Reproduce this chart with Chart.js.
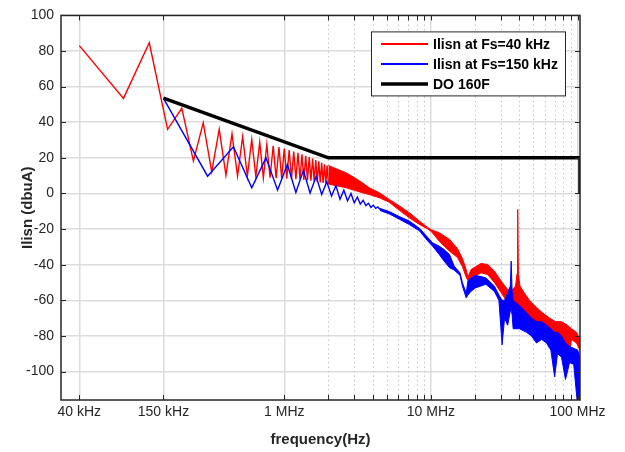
<!DOCTYPE html>
<html>
<head>
<meta charset="utf-8">
<script src="https://cdn.jsdelivr.net/npm/chart.js@4.4.1/dist/chart.umd.min.js"></script>
<style>
  html, body { margin: 0; padding: 0; background: #fff; }
</style>
</head>
<body>
<canvas id="lisnChart" width="625" height="452"></canvas>
<script>
// axis ticks
const freqTicksMHz = [0.04, 0.15, 1, 10, 100];
const freqTickLabels = ['40 kHz', '150 kHz', '1 MHz', '10 MHz', '100 MHz'];
const minorTicksMHz = [2, 3, 4, 5, 6, 7, 8, 9, 20, 30, 40, 50, 60, 70, 80, 90];
const levelTicks = [-100, -80, -60, -40, -20, 0, 20, 40, 60, 80, 100];

// Fs = 40 kHz, harmonics up to 2 MHz (MHz / dBuA)
const red40LowMHz = [0.04, 0.08, 0.12, 0.16, 0.20, 0.24, 0.28, 0.32, 0.36, 0.40, 0.44, 0.48, 0.52, 0.56, 0.60,
  0.64, 0.68, 0.72, 0.76, 0.80, 0.84, 0.88, 0.92, 0.96, 1.00, 1.04, 1.08, 1.12, 1.16, 1.20,
  1.24, 1.28, 1.32, 1.36, 1.40, 1.44, 1.48, 1.52, 1.56, 1.60, 1.64, 1.68, 1.72, 1.76, 1.80,
  1.84, 1.88, 1.92, 1.96, 2.00];
const red40LowLevel = [83, 53.4, 84.6, 36, 47.8, 18.2, 39.7, 12.2, 36, 10.3, 33.5, 9.7, 31.9, 9.7, 30.3,
  9.4, 28.8, 8.8, 27.5, 8.8, 26.8, 8.6, 26, 8.5, 25.2, 8.3, 24.4, 8.2, 23.6, 8,
  22.8, 7.8, 22, 7.6, 21.2, 7.4, 20.4, 7.1, 19.6, 6.8, 18.8, 6.5, 18, 6.2, 17.2,
  5.9, 16.4, 5.6, 15.7, 5.3];

// Fs = 40 kHz, dense harmonics (upper / lower envelope)
const red40BandMHz = [2.0, 2.3, 2.64, 3.0, 3.41, 3.8, 4.45, 5.21, 6.1, 7.13, 8.35, 9.47, 10.1,
  11.4, 13.4, 15.2, 16.4, 17.4, 17.9, 18.8, 22.0, 24.4, 27.1, 30.2, 33.4, 36.0, 37.8, 38.7, 39.1, 39.5, 40.5,
  43.5, 47.0, 52.5, 57.7, 64.4, 70.8, 77.8, 85.4, 91.0, 98.4, 104];
const red40BandHi = [15.7, 13.6, 11.6, 9, 6, 3.2, 0.4, -3.4, -7, -10.8, -15.5, -19, -20.5,
  -22, -25.8, -31, -36.5, -42.7, -47, -42.7, -39.3, -39.9, -43.6, -49.3, -54, -54, -52, -45, -9, -45, -52,
  -56, -60, -64, -67, -70, -72, -72, -74, -76, -78, -82];
const red40BandLo = [5.3, 4.2, 3.2, 1.8, 0.4, -0.6, -2.4, -5, -9.5, -13.7, -17.4, -19.8, -21.5,
  -26.8, -32.4, -36, -41, -47, -49, -47.4, -44.6, -45.5, -50, -55.8, -61.4, -68, -72, -70, -66, -70, -70,
  -68, -70, -74, -76, -78, -80, -80, -97, -82, -84, -88];

// Fs = 150 kHz, first harmonics
const blue150LowMHz = [0.15, 0.30, 0.45, 0.60, 0.75, 0.90, 1.05, 1.20, 1.35, 1.50, 1.65, 1.80, 1.95, 2.10, 2.25,
  2.40, 2.55, 2.70, 2.85, 3.00, 3.15, 3.30, 3.45, 3.60, 3.75, 3.90, 4.05, 4.20, 4.35, 4.50];
const blue150LowLevel = [53.4, 9.7, 26.2, 3.2, 20, 1.9, 16.3, 0.6, 13, 0.3, 9.5, -0.6, 6.5, -1.5, 4.3,
  -3.2, 1.8, -4.2, 0, -5.2, -2, -6, -3.8, -6.8, -5.5, -7.8, -6.6, -8.4, -7.6, -9];

// Fs = 150 kHz, dense harmonics (upper / lower envelope)
const blue150BandMHz = [4.5, 5.21, 6.1, 7.13, 8.35, 9.47, 10.24, 11.4, 12.3, 13.4, 14.4, 15.8, 16.4, 17.4, 17.9,
  18.8, 20.2, 23.7, 27.1, 29.1, 30.6, 31.8, 33.4, 34.8, 35.3, 35.8, 36.4, 40.2, 44.9, 48.5, 52.5, 56.9,
  61.5, 65.8, 69.8, 73.1, 77.8, 82.8, 88.3, 94.2, 100.4, 104];
const blue150BandHi = [-8.4, -10.2, -13, -15.5, -19.5, -24.5, -27.7, -29.6, -31.5, -34.3, -40.8, -44.6, -50, -56, -49,
  -47.4, -46, -47.4, -52, -57, -60, -60, -56, -52, -38, -55, -60, -63, -67, -70, -72, -72,
  -74, -76, -78, -78, -80, -84, -86, -87, -88, -92];
const blue150BandLo = [-9.6, -11.5, -14.5, -17.5, -21, -26.5, -29.5, -34.3, -38, -41.7, -43, -46, -52, -58.6, -57,
  -54.9, -53, -51, -55, -60, -85, -70, -74, -66, -60, -68, -76, -76, -78, -80, -84, -82,
  -84, -88, -103, -90, -92, -104.5, -95, -96, -120, -120];

// DO-160F limit line
const limitMHz = [0.15, 2, 104, 104];
const limitLevel = [53.5, 20, 20, 0];

const RED = '#ff0000', BLUE = '#0000ff', BLACK = '#000000', AXIS = '#262626';

function pts(freqMHz, level) {
  return freqMHz.map((f, i) => ({ x: f * 1e6, y: level[i] }));
}

function line(label, data, color, width, order, extra) {
  return Object.assign({
    label: label, data: data, borderColor: color, backgroundColor: color,
    borderWidth: width, pointRadius: 0, tension: 0, fill: false, order: order
  }, extra || {});
}

const datasets = [
  line('Ilisn at Fs=40 kHz', pts(red40LowMHz, red40LowLevel), RED, 1.4, 3, { inLegend: true }),
  line('red hi', pts(red40BandMHz, red40BandHi), RED, 1, 3),
  line('red lo', pts(red40BandMHz, red40BandLo), RED, 1, 3, { fill: '-1' }),
  line('Ilisn at Fs=150 kHz', pts(blue150LowMHz, blue150LowLevel), BLUE, 1.4, 2, { inLegend: true }),
  line('blue hi', pts(blue150BandMHz, blue150BandHi), BLUE, 1, 2),
  line('blue lo', pts(blue150BandMHz, blue150BandLo), BLUE, 1, 2, { fill: '-1' }),
  line('DO 160F', pts(limitMHz, limitLevel), BLACK, 3.5, 1, { inLegend: true })
];

// minor grid, frame with inward ticks, boxed legend
const matlabFrame = {
  id: 'matlabFrame',
  beforeDatasetsDraw(chart) {
    const { ctx, chartArea: a, scales: { x } } = chart;
    ctx.save();
    ctx.strokeStyle = '#c4c4c4';
    ctx.lineWidth = 1;
    ctx.setLineDash([1.5, 3]);
    minorTicksMHz.forEach(f => {
      const px = Math.round(x.getPixelForValue(f * 1e6)) + 0.5;
      ctx.beginPath(); ctx.moveTo(px, a.top); ctx.lineTo(px, a.bottom); ctx.stroke();
    });
    ctx.restore();
  },
  afterDatasetsDraw(chart) {
    const { ctx, chartArea: a, scales: { x, y } } = chart;
    ctx.save();
    ctx.strokeStyle = AXIS;
    ctx.lineWidth = 1;
    const tl = 5;
    freqTicksMHz.concat(minorTicksMHz).forEach(f => {
      const px = Math.round(x.getPixelForValue(f * 1e6)) + 0.5;
      ctx.beginPath();
      ctx.moveTo(px, a.bottom); ctx.lineTo(px, a.bottom - tl);
      ctx.moveTo(px, a.top); ctx.lineTo(px, a.top + tl);
      ctx.stroke();
    });
    levelTicks.forEach(v => {
      const py = Math.round(y.getPixelForValue(v)) + 0.5;
      ctx.beginPath();
      ctx.moveTo(a.left, py); ctx.lineTo(a.left + tl, py);
      ctx.moveTo(a.right, py); ctx.lineTo(a.right - tl, py);
      ctx.stroke();
    });
    ctx.lineWidth = 1.5;
    ctx.strokeRect(a.left, a.top, a.right - a.left, a.bottom - a.top);

    // legend
    const lx = a.right - 209, ly = a.top + 16, lw = 194, lh = 64;
    ctx.fillStyle = '#fff';
    ctx.fillRect(lx, ly, lw, lh);
    ctx.lineWidth = 1;
    ctx.strokeStyle = AXIS;
    ctx.strokeRect(lx + 0.5, ly + 0.5, lw, lh);
    ctx.font = 'bold 14px "Liberation Sans", Arial, sans-serif';
    ctx.textBaseline = 'middle';
    ctx.fillStyle = '#000';
    chart.data.datasets.filter(d => d.inLegend).forEach((d, i) => {
      const ry = ly + 12.5 + i * 20;
      ctx.strokeStyle = d.borderColor;
      ctx.lineWidth = Math.max(d.borderWidth, 2);
      ctx.beginPath(); ctx.moveTo(lx + 10, ry); ctx.lineTo(lx + 57, ry); ctx.stroke();
      ctx.fillText(d.label, lx + 62, ry + 1);
    });
    ctx.restore();
  }
};

Chart.defaults.font.family = '"Liberation Sans", Arial, sans-serif';
Chart.defaults.color = AXIS;

new Chart(document.getElementById('lisnChart').getContext('2d'), {
  type: 'line',
  data: { datasets: datasets },
  options: {
    responsive: false,
    animation: false,
    devicePixelRatio: 1,
    layout: { padding: { top: 15, right: 45, left: 0, bottom: 0 } },
    plugins: { legend: { display: false }, tooltip: { enabled: false } },
    scales: {
      x: {
        type: 'logarithmic',
        min: 3.0e4,
        max: 1.04e8,
        afterBuildTicks: s => { s.ticks = freqTicksMHz.map(f => ({ value: f * 1e6 })); },
        afterFit: s => { s.height = 52; },
        ticks: {
          autoSkip: false, maxRotation: 0, padding: 4,
          font: { size: 14 }, color: AXIS,
          callback: v => freqTickLabels[freqTicksMHz.findIndex(f => Math.abs(f * 1e6 - v) < 1)]
        },
        grid: { color: '#dcdcdc', lineWidth: 1.5, drawTicks: false },
        border: { display: false },
        title: { display: true, text: 'frequency(Hz)', font: { size: 15, weight: 'bold' }, color: AXIS, padding: { top: 0, bottom: 3 } }
      },
      y: {
        type: 'linear',
        min: -116,
        max: 100,
        afterBuildTicks: s => { s.ticks = levelTicks.map(v => ({ value: v })); },
        afterFit: s => { s.width = 61; },
        ticks: { padding: 7, font: { size: 14 }, color: AXIS },
        grid: { color: '#dcdcdc', lineWidth: 1.5, drawTicks: false },
        border: { display: false },
        title: { display: true, text: 'Ilisn (dbuA)', font: { size: 15, weight: 'bold' }, color: AXIS, padding: { top: 19, bottom: 0 } }
      }
    }
  },
  plugins: [matlabFrame]
});
</script>
</body>
</html>
